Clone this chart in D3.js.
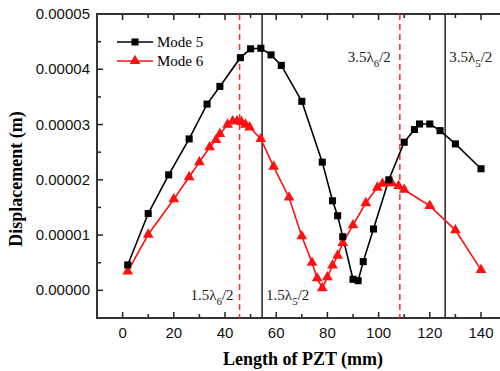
<!DOCTYPE html>
<html>
<head>
<meta charset="utf-8">
<script src="https://cdn.jsdelivr.net/npm/d3@7"></script>
<style>
  body { margin: 0; background: #fff; }
  svg { display: block; }
</style>
</head>
<body>
<div id="vis"></div>
<script>
// data
const mode5X = [2, 10, 18, 26, 33, 38, 46, 50, 54, 58, 62, 70, 78, 82, 84, 86, 90, 92, 94, 98, 104, 110, 114, 116, 120, 124, 130, 140];
const mode5Y = [4.6e-6, 1.39e-5, 2.09e-5, 2.74e-5, 3.37e-5, 3.69e-5, 4.21e-5, 4.37e-5, 4.38e-5, 4.26e-5, 4.07e-5, 3.42e-5, 2.32e-5, 1.62e-5, 1.35e-5, 0.97e-5, 0.2e-5, 0.175e-5, 0.52e-5, 1.11e-5, 2.0e-5, 2.68e-5, 2.91e-5, 3.01e-5, 3.01e-5, 2.89e-5, 2.65e-5, 2.2e-5];

const mode6X = [2, 10, 20, 26, 30, 34, 36.5, 38, 41, 43, 44.7, 46.4, 48, 49.6, 54, 59, 65, 70, 74, 76, 78, 80, 82, 84, 86, 90, 95, 99.5, 101.5, 103.5, 105.2, 107.8, 110, 120, 130, 140];
const mode6Y = [0.343e-5, 1.01e-5, 1.65e-5, 2.05e-5, 2.32e-5, 2.59e-5, 2.72e-5, 2.83e-5, 3.0e-5, 3.06e-5, 3.06e-5, 3.05e-5, 3.0e-5, 2.95e-5, 2.74e-5, 2.24e-5, 1.68e-5, 0.98e-5, 0.5e-5, 0.22e-5, 0.04e-5, 0.24e-5, 0.45e-5, 0.63e-5, 0.86e-5, 1.18e-5, 1.58e-5, 1.86e-5, 1.93e-5, 1.95e-5, 1.94e-5, 1.89e-5, 1.82e-5, 1.53e-5, 1.09e-5, 0.37e-5];

const xTicks = [0, 20, 40, 60, 80, 100, 120, 140];
const yTicks = [0, 0.00001, 0.00002, 0.00003, 0.00004, 0.00005];

// reference lines: position, colour, label, subscript
const refX = [45.7, 54.5, 108.3, 126];
const refKind = ["red", "black", "red", "black"];
const refLabel = ["1.5λ", "1.5λ", "3.5λ", "3.5λ"];
const refSub = ["6", "5", "6", "5"];

const seriesNames = ["Mode 5", "Mode 6"];

////////////////////////////////////////
/////////////// Setup //////////////////
////////////////////////////////////////

const W = 500, H = 371;
const mLeft = 97, mTop = 14, mBottom = 318;

const svg = d3.select("#vis").append("svg")
  .attr("width", W).attr("height", H)
  .attr("viewBox", `0 0 ${W} ${H}`);

const x = d3.scaleLinear().domain([-10, 150]).range([mLeft, mLeft + 160 * 2.56]);
const y = d3.scaleLinear().domain([-0.000005, 0.00005]).range([mBottom, mTop]);

const serif = "'Liberation Serif', 'Times New Roman', serif";
const sans = "'Liberation Sans', Arial, sans-serif";

////////////////////////////////////////
////////////// Axes ////////////////////
////////////////////////////////////////

const frame = svg.append("g");

// minor + major ticks, pointing inward
const xMinor = d3.range(0, 151, 10);
const yMinor = d3.range(-0.000005, 0.0000501, 0.000005);

frame.selectAll(".xb").data(xMinor).join("line")
  .attr("x1", d => x(d)).attr("x2", d => x(d))
  .attr("y1", mBottom).attr("y2", d => mBottom - (d % 20 === 0 ? 6 : 4))
  .attr("stroke", "#222").attr("stroke-width", 1.5);

frame.selectAll(".xt").data(xMinor).join("line")
  .attr("x1", d => x(d)).attr("x2", d => x(d))
  .attr("y1", mTop).attr("y2", d => mTop + (d % 20 === 0 ? 6 : 4))
  .attr("stroke", "#222").attr("stroke-width", 1.5);

frame.selectAll(".yl").data(yMinor).join("line")
  .attr("x1", mLeft).attr("x2", (d, i) => mLeft + (i % 2 === 1 ? 6 : 4))
  .attr("y1", d => y(d)).attr("y2", d => y(d))
  .attr("stroke", "#222").attr("stroke-width", 1.5);

// axis lines (box, right side is off the picture)
frame.append("line").attr("x1", mLeft).attr("x2", W).attr("y1", mBottom).attr("y2", mBottom)
  .attr("stroke", "#333").attr("stroke-width", 2);
frame.append("line").attr("x1", mLeft).attr("x2", W).attr("y1", mTop).attr("y2", mTop)
  .attr("stroke", "#333").attr("stroke-width", 2);
frame.append("line").attr("x1", mLeft).attr("x2", mLeft).attr("y1", mTop - 1).attr("y2", mBottom + 1)
  .attr("stroke", "#333").attr("stroke-width", 2);

// tick labels
svg.selectAll(".xl").data(xTicks).join("text")
  .attr("x", d => x(d)).attr("y", 338)
  .attr("text-anchor", "middle")
  .style("font-family", sans).style("font-size", "15px")
  .attr("fill", "#111")
  .text(d => d);

svg.selectAll(".yt").data(yTicks).join("text")
  .attr("x", 90).attr("y", d => y(d) + 5)
  .attr("text-anchor", "end")
  .style("font-family", sans).style("font-size", "15px")
  .attr("fill", "#111")
  .text(d => d3.format(".5f")(d));

// axis titles
svg.append("text")
  .attr("x", 303).attr("y", 365)
  .attr("text-anchor", "middle")
  .style("font-family", serif).style("font-size", "18px").style("font-weight", "bold")
  .text("Length of PZT (mm)");

svg.append("text")
  .attr("transform", "translate(22,179) rotate(-90)")
  .attr("text-anchor", "middle")
  .style("font-family", serif).style("font-size", "18px").style("font-weight", "bold")
  .text("Displacement (m)");

////////////////////////////////////////
////////// Reference lines /////////////
////////////////////////////////////////

svg.selectAll(".ref").data(refX).join("line")
  .attr("x1", d => x(d)).attr("x2", d => x(d))
  .attr("y1", mTop).attr("y2", mBottom)
  .attr("stroke", (d, i) => refKind[i] === "red" ? "#ff2a2a" : "#222")
  .attr("stroke-width", 1.5)
  .attr("stroke-dasharray", (d, i) => refKind[i] === "red" ? "6,4" : null);

// label positions: lower pair near the bottom, upper pair near the top
const refLabelG = svg.selectAll(".reflab").data(refX).join("text")
  .attr("x", (d, i) => i === 0 ? x(d) - 6 : i === 2 ? x(d) - 9 : x(d) + 4)
  .attr("y", (d, i) => i < 2 ? 300 : 62)
  .attr("text-anchor", (d, i) => i === 0 || i === 2 ? "end" : "start")
  .style("font-family", serif).style("font-size", "15px")
  .attr("fill", "#222");

refLabelG.each(function (d, i) {
  const t = d3.select(this);
  t.append("tspan").text(refLabel[i]);
  t.append("tspan").attr("dy", 5).style("font-size", "11px").text(refSub[i]);
  t.append("tspan").attr("dy", -5).text("/2");
});

////////////////////////////////////////
////////////// Series //////////////////
////////////////////////////////////////

const line = d3.line().x(d => x(d[0])).y(d => y(d[1]));

const m5 = mode5X.map((v, i) => [v, mode5Y[i]]);
const m6 = mode6X.map((v, i) => [v, mode6Y[i]]);

svg.append("path").datum(m6).attr("d", line)
  .attr("fill", "none").attr("stroke", "#ff1010").attr("stroke-width", 1.6);
svg.append("path").datum(m5).attr("d", line)
  .attr("fill", "none").attr("stroke", "#000").attr("stroke-width", 1.6);

const tri = d3.symbol().type(d3.symbolTriangle).size(50);
const sq = d3.symbol().type(d3.symbolSquare).size(50);

svg.selectAll(".p6").data(m6).join("path")
  .attr("transform", d => `translate(${x(d[0])},${y(d[1])})`)
  .attr("d", tri).attr("fill", "#ff1010");

svg.selectAll(".p5").data(m5).join("path")
  .attr("transform", d => `translate(${x(d[0])},${y(d[1])})`)
  .attr("d", sq).attr("fill", "#000");

////////////////////////////////////////
////////////// Legend //////////////////
////////////////////////////////////////

const legend = svg.append("g");
const legColors = ["#000", "#ff1010"];
const legSym = [sq, tri];

seriesNames.forEach((name, i) => {
  const ly = 42 + i * 19;
  legend.append("line").attr("x1", 117).attr("x2", 153).attr("y1", ly).attr("y2", ly)
    .attr("stroke", legColors[i]).attr("stroke-width", 1.6);
  legend.append("path").attr("transform", `translate(135,${ly})`)
    .attr("d", legSym[i]).attr("fill", legColors[i]);
  legend.append("text").attr("x", 157).attr("y", ly + 5)
    .style("font-family", serif).style("font-size", "15px")
    .text(name);
});
</script>
</body>
</html>
